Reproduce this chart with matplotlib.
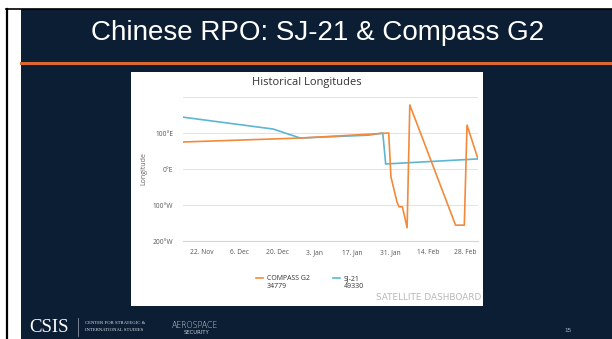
import pandas as pd
import matplotlib.pyplot as plt
from matplotlib.patches import Rectangle
from matplotlib.lines import Line2D

# longitude history, + is east, - is west
compass_dates = ['2021-11-15 00:00', '2021-12-28 14:00', '2022-01-24 00:00', '2022-01-30 10:00',
                 '2022-01-31 06:00', '2022-02-02 12:00', '2022-02-03 06:00',
                 '2022-02-04 12:00', '2022-02-06 06:00', '2022-02-07 06:00',
                 '2022-02-24 06:00', '2022-02-27 12:00', '2022-02-28 12:00',
                 '2022-03-04 14:00']
compass_lon = [75, 86, 97, 100, -22, -92, -105, -105, -163, 178, -156, -156, 122, 28]

sj21_dates = ['2021-11-15 00:00', '2021-12-18 12:00', '2021-12-28 14:00', '2022-01-23 00:00',
              '2022-01-28 05:00', '2022-01-29 07:00', '2022-03-04 14:00']
sj21_lon = [144, 111, 86, 94, 100, 14, 28]

xtick_dates = ['2021-11-22', '2021-12-06', '2021-12-20', '2022-01-03',
               '2022-01-17', '2022-01-31', '2022-02-14', '2022-02-28']
xtick_labels = ['22. Nov', '6. Dec', '20. Dec', '3. Jan', '17. Jan', '31. Jan', '14. Feb', '28. Feb']
ytick_vals = [-200, -100, 0, 100, 200]
ytick_labels = ['200°W', '100°W', '0°E', '100°E', '']

W, H = 612, 339
navy = '#0b1e33'
orange = '#f28a3c'
blue = '#5cb6d4'

fig = plt.figure(figsize=(W / 100, H / 100), dpi=100)
fig.patch.set_facecolor('white')


def px(x, y):
    # slide pixel (top-left origin) -> figure fraction
    return x / W, 1 - y / H


def rect(x0, y0, x1, y1, color, z=0):
    fig.add_artist(Rectangle((x0 / W, 1 - y1 / H), (x1 - x0) / W, (y1 - y0) / H,
                             transform=fig.transFigure, facecolor=color,
                             edgecolor='none', zorder=z))


def hline(x0, x1, y, color, lw):
    fig.add_artist(Line2D([x0 / W, x1 / W], [1 - y / H, 1 - y / H],
                          transform=fig.transFigure, color=color, lw=lw, zorder=2))


# slide frame
rect(21, 9, W, H, navy)
fig.add_artist(Line2D([6.5 / W, 6.5 / W], [0, 1 - 8.5 / H], transform=fig.transFigure,
                      color='black', lw=1.6, zorder=3))
hline(6, W, 8.5, 'black', 1.2)
hline(21, W, 62.5, '#d9692e', 2.2)

fig.text(*px(318, 33.5), 'Chinese RPO: SJ-21 & Compass G2', color='white',
         family='Liberation Sans', fontsize=20, ha='center', va='center')

# chart panel
rect(131, 72, 483, 306, 'white', z=1)

l, b = px(183, 241)
r, t = px(478, 97)
ax = fig.add_axes([l, b, r - l, t - b], zorder=3)
ax.set_facecolor('white')

cd = pd.to_datetime(compass_dates)
sd = pd.to_datetime(sj21_dates)
ax.plot(cd, compass_lon, color=orange, lw=1.2, label='COMPASS G2\n34779', zorder=4)
ax.plot(sd, sj21_lon, color=blue, lw=1.2, label='SJ-21\n49330', zorder=3)

ax.set_xlim(cd[0], cd[-1])
ax.set_ylim(-200, 200)
ax.set_yticks(ytick_vals)
ax.set_yticklabels(ytick_labels)
ax.set_xticks(pd.to_datetime(xtick_dates))
ax.set_xticklabels(xtick_labels)
ax.tick_params(length=0, labelsize=4.8, labelcolor='#555555', pad=6, labelfontfamily='Open Sans')
ax.tick_params(axis='y', pad=7)
ax.grid(axis='y', color='#e3e3e3', lw=0.7)
ax.set_axisbelow(True)
for s in ['top', 'right', 'left']:
    ax.spines[s].set_visible(False)
ax.spines['bottom'].set_color('#ccd6eb')
ax.spines['bottom'].set_linewidth(0.8)
ax.set_ylabel('Longitude', fontsize=5, color='#666666', family='Open Sans', labelpad=4)

fig.text(*px(307, 82), 'Historical Longitudes', ha='center', va='center',
         fontsize=8, color='#333333', family='Open Sans', zorder=4)

leg = fig.legend(loc='upper left', bbox_to_anchor=px(253, 272), ncol=2, frameon=False,
                 prop={'family': 'Open Sans', 'size': 5}, handlelength=1.0,
                 handletextpad=0.5, columnspacing=3.4, labelspacing=0.2,
                 borderpad=0, labelcolor='#333333')
leg.set_zorder(5)
# put the legend key next to the first text line, as Highcharts does
for hl in leg.get_lines():
    y = hl.get_ydata()
    hl.set_ydata([v + 3.4 for v in y])

fig.text(*px(481, 297), 'SATELLITE DASHBOARD', ha='right', va='center', fontsize=6.4,
         color='#b8b8b8', family='DejaVu Sans', zorder=4)

# footer
fig.text(*px(29, 327), 'CSIS', color='white', family='Liberation Serif', fontsize=13.5,
         ha='left', va='center')
fig.add_artist(Line2D([77.5 / W, 77.5 / W], [1 - 336 / H, 1 - 318 / H],
                      transform=fig.transFigure, color='#8893a0', lw=0.6))
fig.text(*px(85, 323.5), 'CENTER FOR STRATEGIC &', color='#dfe3e8', family='Liberation Serif',
         fontsize=3.4, ha='left', va='center')
fig.text(*px(85, 330), 'INTERNATIONAL STUDIES', color='#dfe3e8', family='Liberation Serif',
         fontsize=3.4, ha='left', va='center')
fig.text(*px(172, 325), 'AEROSPACE', color='#dfe3e8', family='DejaVu Sans', fontsize=5.6,
         weight='light', ha='left', va='center')
fig.text(*px(197, 333), 'SECURITY', color='#c8ced6', family='DejaVu Sans', fontsize=3.8,
         ha='center', va='center')
fig.text(*px(568, 330), '15', color='#aab2bc', family='Liberation Sans', fontsize=4.5,
         ha='center', va='center')

fig.savefig('out.png', dpi=100, facecolor=fig.get_facecolor())
